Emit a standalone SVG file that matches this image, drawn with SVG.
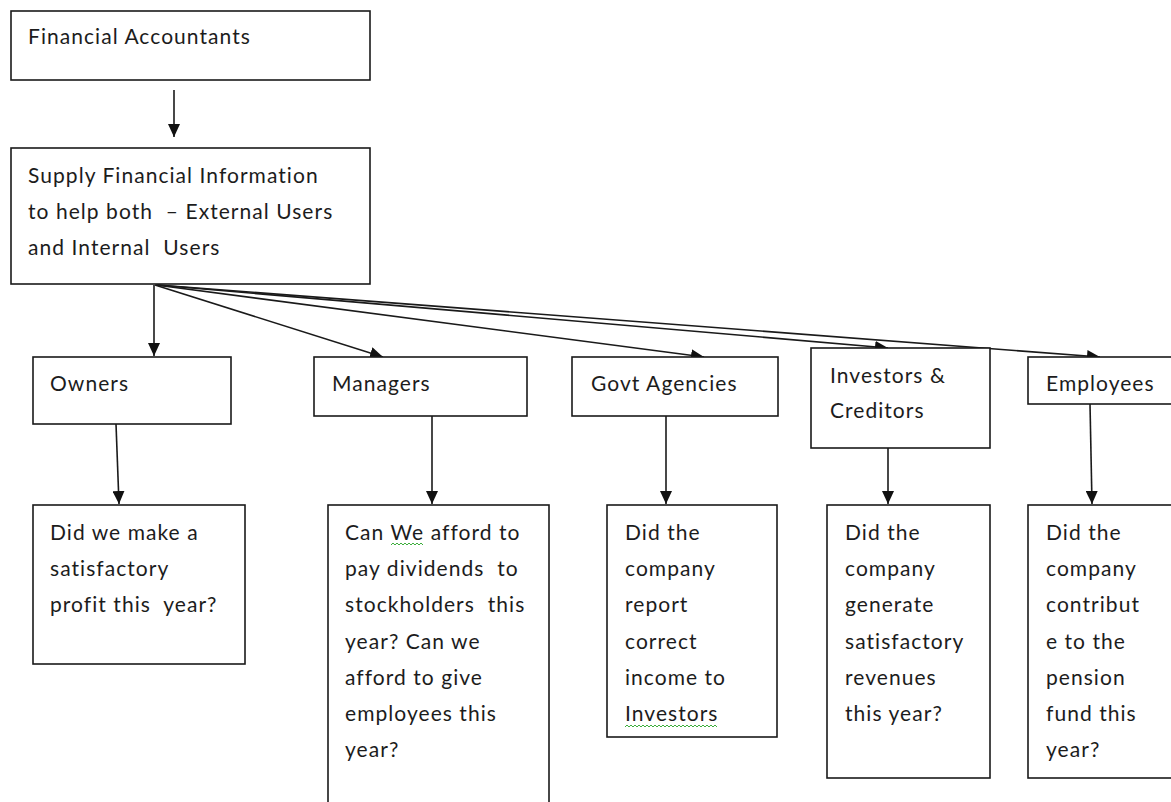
<svg xmlns="http://www.w3.org/2000/svg" width="1171" height="802" viewBox="0 0 1171 802">
<style>
.box{fill:#fff;stroke:#1a1a1a;stroke-width:1.6}
.t{font-family:Lato,"Liberation Sans",sans-serif;font-size:21px;letter-spacing:1.05px;fill:#1c1c1c;white-space:pre}
.c{stroke:#1a1a1a;stroke-width:1.6;fill:none;marker-end:url(#ah)}
.sq{stroke:#3cae3c;stroke-width:1;fill:none}
</style>
<defs>
<marker id="ah" markerUnits="userSpaceOnUse" markerWidth="14" markerHeight="12" refX="13" refY="6" orient="auto">
<path d="M0,0 L13,6 L0,12 Z" fill="#111"/>
</marker>
</defs>
<rect width="1171" height="802" fill="#fff"/>
<g id="connectors">
<line class="c" x1="174" y1="90" x2="174" y2="137"/>
<line class="c" x1="154" y1="285" x2="154" y2="356"/>
<line class="c" x1="155" y1="285" x2="383" y2="357"/>
<line class="c" x1="156" y1="285" x2="704" y2="357"/>
<line class="c" x1="157" y1="285" x2="888" y2="348"/>
<line class="c" x1="158" y1="285" x2="1100" y2="357"/>
<line class="c" x1="116" y1="424" x2="119" y2="504"/>
<line class="c" x1="432" y1="416" x2="432" y2="504"/>
<line class="c" x1="666" y1="416" x2="666" y2="504"/>
<line class="c" x1="888" y1="448" x2="888" y2="504"/>
<line class="c" x1="1090" y1="404" x2="1092" y2="504"/>
</g>
<g id="n-accountants">
<rect class="box" x="11" y="11" width="359" height="69"/>
<text class="t" x="28" y="44">Financial Accountants</text>
</g>
<g id="n-supply">
<rect class="box" x="11" y="148" width="359" height="136"/>
<text class="t" x="28" y="183">Supply Financial Information</text>
<text class="t" x="28" y="219">to help both  – External Users</text>
<text class="t" x="28" y="255">and Internal  Users</text>
</g>
<g id="n-owners">
<rect class="box" x="33" y="357" width="198" height="67"/>
<text class="t" x="50" y="391">Owners</text>
</g>
<g id="n-managers">
<rect class="box" x="314" y="357" width="213" height="59"/>
<text class="t" x="332" y="391">Managers</text>
</g>
<g id="n-govt">
<rect class="box" x="572" y="357" width="206" height="59"/>
<text class="t" x="591" y="391">Govt Agencies</text>
</g>
<g id="n-investors">
<rect class="box" x="811" y="348" width="179" height="100"/>
<text class="t" x="830" y="383">Investors &amp;</text>
<text class="t" x="830" y="418">Creditors</text>
</g>
<g id="n-employees">
<rect class="box" x="1028" y="357" width="160" height="47"/>
<text class="t" x="1046" y="391">Employees</text>
</g>
<g id="q-owners">
<rect class="box" x="33" y="505" width="212" height="159"/>
<text class="t" x="50" y="540">Did we make a</text>
<text class="t" x="50" y="576">satisfactory</text>
<text class="t" x="50" y="612">profit this  year?</text>
</g>
<g id="q-managers">
<rect class="box" x="328" y="505" width="221" height="310"/>
<text class="t" x="345" y="540">Can We afford to</text>
<text class="t" x="345" y="576">pay dividends  to</text>
<text class="t" x="345" y="612">stockholders  this</text>
<text class="t" x="345" y="649">year? Can we</text>
<text class="t" x="345" y="685">afford to give</text>
<text class="t" x="345" y="721">employees this</text>
<text class="t" x="345" y="757">year?</text>
<polyline class="sq" points="391,545 393,543 395,545 397,543 399,545 401,543 403,545 405,543 407,545 409,543 411,545 413,543 415,545 417,543 419,545 421,543 423,545"/>
</g>
<g id="q-govt">
<rect class="box" x="607" y="505" width="170" height="232"/>
<text class="t" x="625" y="540">Did the</text>
<text class="t" x="625" y="576">company</text>
<text class="t" x="625" y="612">report</text>
<text class="t" x="625" y="649">correct</text>
<text class="t" x="625" y="685">income to</text>
<text class="t" x="625" y="721">Investors</text>
<polyline class="sq" points="625,727 627,725 629,727 631,725 633,727 635,725 637,727 639,725 641,727 643,725 645,727 647,725 649,727 651,725 653,727 655,725 657,727 659,725 661,727 663,725 665,727 667,725 669,727 671,725 673,727 675,725 677,727 679,725 681,727 683,725 685,727 687,725 689,727 691,725 693,727 695,725 697,727 699,725 701,727 703,725 705,727 707,725 709,727 711,725 713,727 715,725 717,727"/>
</g>
<g id="q-investors">
<rect class="box" x="827" y="505" width="163" height="273"/>
<text class="t" x="845" y="540">Did the</text>
<text class="t" x="845" y="576">company</text>
<text class="t" x="845" y="612">generate</text>
<text class="t" x="845" y="649">satisfactory</text>
<text class="t" x="845" y="685">revenues</text>
<text class="t" x="845" y="721">this year?</text>
</g>
<g id="q-employees">
<rect class="box" x="1028" y="505" width="160" height="273"/>
<text class="t" x="1046" y="540">Did the</text>
<text class="t" x="1046" y="576">company</text>
<text class="t" x="1046" y="612">contribut</text>
<text class="t" x="1046" y="649">e to the</text>
<text class="t" x="1046" y="685">pension</text>
<text class="t" x="1046" y="721">fund this</text>
<text class="t" x="1046" y="757">year?</text>
</g>
</svg>
